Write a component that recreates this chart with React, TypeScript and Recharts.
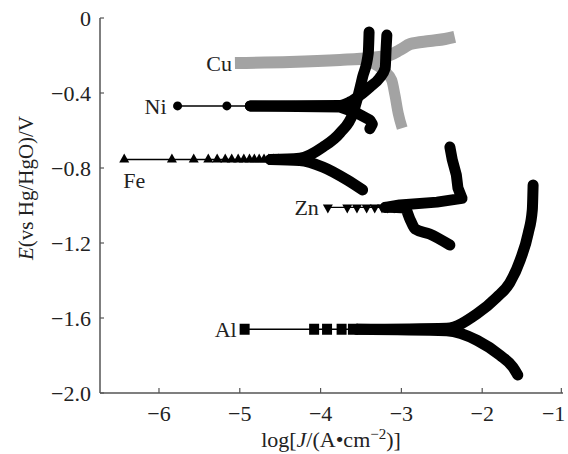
import { LineChart, Line, XAxis, YAxis, ReferenceDot } from 'recharts'

type Pt = [number, number]

// axis ticks
const xTicks = [-6, -5, -4, -3, -2, -1]
const yTicks = [0, -0.4, -0.8, -1.2, -1.6, -2.0]

// Fe (triangles)
const feMarkJ = [-6.43, -5.84, -5.57, -5.39, -5.28, -5.18, -5.1, -5.02, -4.95, -4.88, -4.82, -4.76, -4.7, -4.64, -4.58, -4.52]
const feE = -0.755
const feAnodic: Pt[] = [[-4.62, -0.755], [-4.26, -0.748], [-3.97, -0.688], [-3.76, -0.613], [-3.6, -0.509], [-3.54, -0.421], [-3.48, -0.315], [-3.41, -0.187], [-3.4, -0.075]]
const feCathodic: Pt[] = [[-4.62, -0.755], [-4.26, -0.76], [-3.97, -0.795], [-3.67, -0.864], [-3.48, -0.917]]

// Ni (circles)
const niMarkJ = [-5.77, -5.16, -4.87, -4.75, -4.65, -4.54, -4.42, -4.32, -4.19, -4.07]
const niE = -0.469
const niAnodic: Pt[] = [[-4.87, -0.469], [-3.76, -0.466], [-3.64, -0.448], [-3.51, -0.411], [-3.39, -0.368], [-3.27, -0.32], [-3.2, -0.267], [-3.19, -0.171], [-3.18, -0.091]]
const niCathodic: Pt[] = [[-4.87, -0.469], [-3.76, -0.475], [-3.55, -0.507], [-3.39, -0.544], [-3.36, -0.566], [-3.39, -0.59]]

// Cu (grey band, no markers)
const cuAnodic: Pt[] = [[-5.06, -0.24], [-4.38, -0.235], [-3.76, -0.224], [-3.39, -0.213], [-3.14, -0.197], [-3.02, -0.171], [-2.89, -0.139], [-2.65, -0.123], [-2.46, -0.112], [-2.34, -0.101]]
const cuCathodic: Pt[] = [[-3.39, -0.235], [-3.2, -0.288], [-3.12, -0.331], [-3.08, -0.411], [-3.04, -0.507], [-2.99, -0.587]]

// Zn (inverted triangles)
const znMarkJ = [-3.91, -3.67, -3.55, -3.43, -3.33, -3.24, -3.17, -3.09]
const znE = -1.01
const znAnodic: Pt[] = [[-3.2, -1.01], [-3.02, -0.997], [-2.56, -0.982], [-2.25, -0.962], [-2.3, -0.907], [-2.32, -0.837], [-2.37, -0.757], [-2.4, -0.688]]
const znCathodic: Pt[] = [[-3.2, -1.01], [-2.96, -1.013], [-2.89, -1.077], [-2.83, -1.125], [-2.65, -1.152], [-2.4, -1.211]]

// Al (squares)
const alMarkJ = [-4.94, -4.08, -3.92, -3.74, -3.6]
const alE = -1.66
const alAnodic: Pt[] = [[-3.55, -1.66], [-2.44, -1.654], [-2.06, -1.576], [-1.82, -1.49], [-1.66, -1.413], [-1.53, -1.291], [-1.43, -1.147], [-1.38, -1.024], [-1.37, -0.891]]
const alCathodic: Pt[] = [[-3.55, -1.66], [-2.44, -1.668], [-2.06, -1.72], [-1.78, -1.799], [-1.62, -1.862], [-1.56, -1.904]]

const FONT = '"Liberation Serif", "Times New Roman", serif'
const INK = '#000'
const CU_GREY = '#a3a3a3'
const AXIS = '#555'
const TEXT = '#222'

const toPts = (a: Pt[]) => a.map(([x, y]) => ({ x, y }))
const flat = (js: number[], e: number) => js.map((x) => ({ x, y: e }))

const markerDot = (kind: string) => (p: any) => {
  const { cx, cy, index } = p
  if (cx == null || cy == null) return <g key={index} />
  if (kind === 'circle') return <circle key={index} cx={cx} cy={cy} r={4.5} fill={INK} />
  if (kind === 'square') return <rect key={index} x={cx - 5} y={cy - 5.5} width={10} height={11} fill={INK} />
  if (kind === 'tri')
    return <path key={index} d={`M${cx - 5},${cy + 3} L${cx + 5},${cy + 3} L${cx},${cy - 6} Z`} fill={INK} />
  return <path key={index} d={`M${cx - 5},${cy - 3} L${cx + 5},${cy - 3} L${cx},${cy + 6} Z`} fill={INK} />
}

const XTick = (p: any) => {
  const { x, y, payload } = p
  const last = payload.value === xTicks[xTicks.length - 1]
  return (
    <g>
      <line x1={x} y1={y} x2={x} y2={y - 5} stroke={AXIS} strokeWidth={1.2} />
      <text x={last ? x + 4 : x} y={y + 28} textAnchor={last ? 'end' : 'middle'} fontFamily={FONT} fontSize={22} fill={TEXT}>
        {payload.value === 0 ? '0' : '\u2212' + Math.abs(payload.value)}
      </text>
    </g>
  )
}

const YTick = (p: any) => {
  const { x, y, payload } = p
  const v = payload.value as number
  return (
    <g>
      <line x1={x} y1={y} x2={x + 4} y2={y} stroke={AXIS} strokeWidth={1.2} />
      <text x={x - 9} y={y} dy="0.35em" textAnchor="end" fontFamily={FONT} fontSize={22} fill={TEXT}>
        {v === 0 ? '0' : '\u2212' + Math.abs(v).toFixed(1)}
      </text>
    </g>
  )
}

const labels = [
  { name: 'Cu', x: cuAnodic[0][0], y: cuAnodic[0][1], pos: 'left', off: 3, dx: 0 },
  { name: 'Ni', x: niMarkJ[0], y: niE, pos: 'left', off: 11, dx: 0 },
  { name: 'Fe', x: feMarkJ[0], y: feE, pos: 'bottom', off: 13, dx: 10 },
  { name: 'Zn', x: znMarkJ[0], y: znE, pos: 'left', off: 9, dx: 0 },
  { name: 'Al', x: alMarkJ[0], y: alE, pos: 'left', off: 8, dx: 0 },
]

const series = [
  { key: 'fe', mark: 'tri', js: feMarkJ, e: feE, up: feAnodic, down: feCathodic, upType: 'monotone', downType: 'monotone' },
  { key: 'ni', mark: 'circle', js: niMarkJ, e: niE, up: niAnodic, down: niCathodic, upType: 'monotone', downType: 'linear' },
  { key: 'zn', mark: 'invtri', js: znMarkJ, e: znE, up: znAnodic, down: znCathodic, upType: 'linear', downType: 'monotone' },
  { key: 'al', mark: 'square', js: alMarkJ, e: alE, up: alAnodic, down: alCathodic, upType: 'monotone', downType: 'monotone' },
]

export default function App() {
  return (
    <div style={{ position: 'absolute', left: 0, top: 0, background: '#fff' }}>
      <LineChart width={568} height={454} margin={{ top: 18, right: 5, left: 0, bottom: 0 }}>
        <XAxis
          dataKey="x"
          type="number"
          domain={[-6.73, -1]}
          ticks={xTicks}
          allowDataOverflow
          height={61}
          tickSize={0}
          tickMargin={0}
          tickLine={false}
          axisLine={{ stroke: AXIS, strokeWidth: 1.5 }}
          tick={<XTick />}
          label={{
            content: () => (
              <text x={331} y={447} textAnchor="middle" fontFamily={FONT} fontSize={22} fill={TEXT}>
                log[<tspan fontStyle="italic">J</tspan>/(A•cm<tspan dy={-8} fontSize={15}>−2</tspan><tspan dy={8}>)]</tspan>
              </text>
            ),
          }}
        />
        <XAxis xAxisId="top" orientation="top" type="number" domain={[-6.73, -1]} height={0} tick={false} tickLine={false} axisLine={{ stroke: AXIS, strokeWidth: 1.5 }} />
        <YAxis
          type="number"
          domain={[-2, 0]}
          ticks={yTicks}
          allowDataOverflow
          width={100}
          tickSize={0}
          tickMargin={0}
          tickLine={false}
          axisLine={{ stroke: AXIS, strokeWidth: 1.5 }}
          tick={<YTick />}
          label={{
            content: () => (
              <text transform="translate(33,188) rotate(-90)" textAnchor="middle" fontFamily={FONT} fontSize={21} fill={TEXT}>
                <tspan fontStyle="italic">E</tspan>(vs Hg/HgO)/V
              </text>
            ),
          }}
        />
        <YAxis yAxisId="right" orientation="right" type="number" domain={[-2, 0]} width={0} tick={false} tickLine={false} axisLine={{ stroke: AXIS, strokeWidth: 1.5 }} />

        {/* Cu grey band sits behind everything */}
        <Line data={toPts(cuAnodic)} dataKey="y" type="monotone" stroke={CU_GREY} strokeWidth={12} strokeLinejoin="round" dot={false} activeDot={false} isAnimationActive={false} />
        <Line data={toPts(cuCathodic)} dataKey="y" type="monotone" stroke={CU_GREY} strokeWidth={11} strokeLinejoin="round" dot={false} activeDot={false} isAnimationActive={false} />

        {series.map((s) => [
          <Line key={s.key + 'm'} data={flat(s.js, s.e)} dataKey="y" type="linear" stroke={INK} strokeWidth={1.4} dot={markerDot(s.mark)} activeDot={false} isAnimationActive={false} />,
          <Line key={s.key + 'u'} data={toPts(s.up)} dataKey="y" type={s.upType as any} stroke={INK} strokeWidth={11} strokeLinecap="round" strokeLinejoin="round" dot={false} activeDot={false} isAnimationActive={false} />,
          <Line key={s.key + 'd'} data={toPts(s.down)} dataKey="y" type={s.downType as any} stroke={INK} strokeWidth={11} strokeLinecap="round" strokeLinejoin="round" dot={false} activeDot={false} isAnimationActive={false} />,
        ])}

        {labels.map((l) => (
          <ReferenceDot
            key={l.name}
            x={l.x}
            y={l.y}
            r={0}
            fill="none"
            stroke="none"
            label={{ value: l.name, position: l.pos as any, offset: l.off, dx: l.dx, fontFamily: FONT, fontSize: 22, fill: TEXT }}
          />
        ))}
      </LineChart>
    </div>
  )
}
